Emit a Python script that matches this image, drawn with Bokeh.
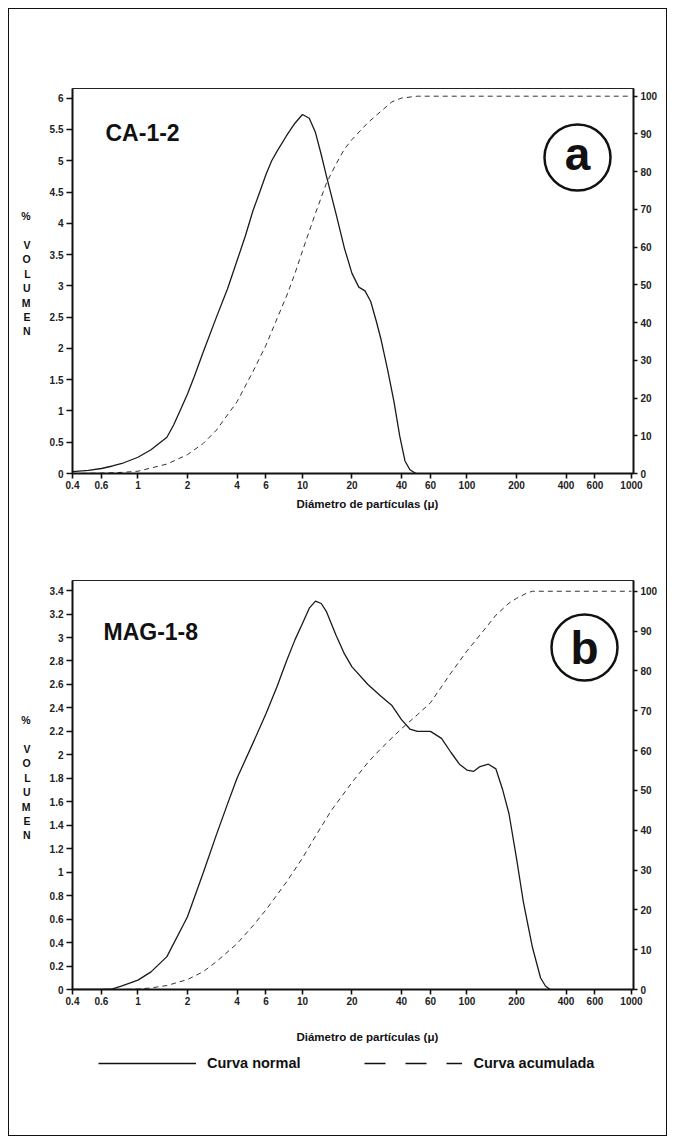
from bokeh.plotting import figure
from bokeh.models import (Range1d, LinearAxis, FixedTicker, NumeralTickFormatter,
                          Label, Legend, LegendItem)
from bokeh.layouts import column
from bokeh.embed import file_html
from bokeh.resources import INLINE

FONT = "Liberation Sans"

# ---------------- data ----------------
x_ticks = [0.4, 0.6, 1, 2, 4, 6, 10, 20, 40, 60, 100, 200, 400, 600, 1000]
pct_ticks = [0, 10, 20, 30, 40, 50, 60, 70, 80, 90, 100]
a_left_ticks = [0, 0.5, 1, 1.5, 2, 2.5, 3, 3.5, 4, 4.5, 5, 5.5, 6]
b_left_ticks = [0, 0.2, 0.4, 0.6, 0.8, 1, 1.2, 1.4, 1.6, 1.8, 2, 2.2, 2.4,
                2.6, 2.8, 3, 3.2, 3.4]

# Panel a : CA-1-2
a_norm_x = [0.4, 0.5, 0.6, 0.7, 0.8, 1.0, 1.2, 1.5, 1.65, 1.8, 2.0, 2.2, 2.5,
            3.0, 3.5, 4.0, 4.5, 5.0, 5.5, 6.0, 6.5, 7.0, 8.0, 9.0, 10.0, 11.0,
            12.0, 13.0, 14.0, 16.0, 18.0, 20.0, 22.0, 24.0, 26.0, 28.0, 30.0,
            33.0, 36.0, 39.0, 42.0, 45.0, 49.0]
a_norm_y = [0.03, 0.05, 0.08, 0.12, 0.16, 0.26, 0.38, 0.58, 0.78, 1.0, 1.27,
            1.55, 1.95, 2.5, 2.95, 3.4, 3.8, 4.2, 4.5, 4.78, 5.0, 5.15, 5.4,
            5.6, 5.74, 5.68, 5.45, 5.1, 4.75, 4.15, 3.6, 3.2, 2.98, 2.92,
            2.75, 2.45, 2.15, 1.65, 1.15, 0.6, 0.2, 0.06, 0.0]
a_cum_x = [0.4, 0.6, 0.8, 1.0, 1.5, 2.0, 2.5, 3.0, 4.0, 5.0, 6.0, 7.0, 8.0,
           9.0, 10.0, 12.0, 14.0, 16.0, 18.0, 20.0, 25.0, 30.0, 35.0, 40.0,
           50.0, 100.0, 1000.0]
a_cum_y = [0, 0.1, 0.3, 0.6, 2.5, 5, 8, 11.5, 19, 27, 34, 41, 47, 53, 59, 69,
           77, 82, 86, 88.5, 93, 96, 98.5, 99.5, 100, 100, 100]

# Panel b : MAG-1-8
b_norm_x = [0.4, 0.6, 0.7, 0.8, 1.0, 1.2, 1.5, 2.0, 2.5, 3.0, 3.5, 4.0, 5.0,
            6.0, 7.0, 8.0, 9.0, 10.0, 11.0, 12.0, 13.0, 14.0, 16.0, 18.0,
            20.0, 25.0, 30.0, 35.0, 40.0, 45.0, 50.0, 60.0, 70.0, 80.0, 90.0,
            100.0, 110.0, 120.0, 135.0, 150.0, 165.0, 180.0, 200.0, 220.0,
            250.0, 280.0, 300.0, 320.0]
b_norm_y = [0, 0, 0.005, 0.03, 0.08, 0.15, 0.28, 0.62, 1.0, 1.32, 1.58, 1.8,
            2.1, 2.35, 2.58, 2.8, 2.98, 3.12, 3.25, 3.31, 3.29, 3.22, 3.02,
            2.86, 2.75, 2.6, 2.5, 2.42, 2.3, 2.22, 2.2, 2.2, 2.14, 2.02, 1.92,
            1.87, 1.86, 1.9, 1.92, 1.88, 1.7, 1.5, 1.12, 0.75, 0.36, 0.1,
            0.03, 0.0]
b_cum_x = [0.4, 0.8, 1.0, 1.2, 1.5, 2.0, 2.5, 3.0, 4.0, 5.0, 6.0, 8.0, 10.0,
           12.0, 15.0, 20.0, 25.0, 30.0, 40.0, 50.0, 60.0, 80.0, 100.0, 120.0,
           150.0, 180.0, 200.0, 230.0, 250.0, 1000.0]
b_cum_y = [0, 0, 0.1, 0.4, 1, 2.5, 4.5, 7, 11.5, 16, 20, 27, 33, 38.5, 45, 52,
           57, 60.5, 65.5, 69, 72, 79.5, 85, 89, 94, 97, 98.2, 99.5, 100, 100]

x_title = "Diámetro de partículas (μ)"
y_title = "%\n\nV\nO\nL\nU\nM\nE\nN\n "
legend_labels = ["Curva normal", "Curva acumulada"]

PAGE_W = 675
LEFT = 72
RIGHT = 42
NBSP = "\u00a0"


def to_data(px, py, frame, xr, yr):
    L, T, R, B = frame
    x = xr[0] * (xr[1] / xr[0]) ** ((px - L) / (R - L))
    y = yr[0] + (B - py) / (B - T) * (yr[1] - yr[0])
    return x, y


def build(h, top, bottom, yr, yr2, left_ticks, nx, ny, cx_, cy_,
          name, name_pos, circ, letter, title_standoff):
    xr = (0.4, 0.4 * 10 ** ((PAGE_W - LEFT - RIGHT) / 164.5))
    p = figure(width=PAGE_W, height=h, x_axis_type="log",
               x_range=Range1d(*xr), y_range=Range1d(*yr),
               output_backend="svg", toolbar_location=None,
               min_border_left=LEFT, min_border_right=RIGHT,
               min_border_top=top, min_border_bottom=bottom,
               border_fill_color=None, background_fill_color="white")
    p.extra_y_ranges = {"pct": Range1d(*yr2)}
    p.grid.visible = False
    p.outline_line_color = "#222"
    p.outline_line_width = 1
    frame = (LEFT, top, PAGE_W - RIGHT, h - bottom)

    xa = p.xaxis[0]
    xa.ticker = FixedTicker(ticks=x_ticks)
    xa.formatter = NumeralTickFormatter(format="0.[0]")
    # title sits a little right of the frame centre in the original
    xa.axis_label = NBSP * 9 + x_title
    xa.axis_label_standoff = title_standoff
    xa.axis_label_text_font = FONT
    xa.axis_label_text_font_style = "bold"
    xa.axis_label_text_font_size = "11.5px"
    xa.axis_label_text_color = "#111"

    ya = p.yaxis[0]
    ya.ticker = FixedTicker(ticks=left_ticks)
    ya.formatter = NumeralTickFormatter(format="0.[0]")
    ya.axis_label = y_title
    ya.axis_label_orientation = "horizontal"
    ya.axis_label_standoff = 16
    ya.axis_label_text_font = FONT
    ya.axis_label_text_font_style = "bold"
    ya.axis_label_text_font_size = "10.5px"
    ya.axis_label_text_line_height = 1.2
    ya.axis_label_text_align = "center"
    ya.axis_label_text_color = "#111"

    ra = LinearAxis(y_range_name="pct", ticker=FixedTicker(ticks=pct_ticks))
    p.add_layout(ra, "right")

    for ax in (xa, ya, ra):
        ax.axis_line_width = 2
        ax.axis_line_color = "#111"
        ax.major_tick_in = 0
        ax.major_tick_out = 5
        ax.major_tick_line_width = 1.6
        ax.major_tick_line_color = "#111"
        ax.minor_tick_line_color = None
        ax.major_label_text_font = FONT
        ax.major_label_text_font_style = "bold"
        ax.major_label_text_font_size = "10px"
        ax.major_label_text_color = "#222"
        ax.major_label_standoff = 2
    ya.major_tick_out = 6
    ya.major_label_standoff = 3
    ra.major_label_standoff = 3
    ra.major_tick_out = 4

    p.line(nx, ny, line_color="#1a1a1a", line_width=1.3)
    p.line(cx_, cy_, y_range_name="pct", line_color="#333",
           line_width=1.0, line_dash="5 4")

    # sample name
    tx, ty = to_data(name_pos[0], name_pos[1], frame, xr, yr)
    p.add_layout(Label(x=tx, y=ty, text=name, text_font=FONT,
                       text_font_style="bold", text_font_size="23px",
                       text_color="#111", text_baseline="middle",
                       text_align="left"))
    # circled letter
    ccx, ccy = to_data(circ[0], circ[1], frame, xr, yr)
    p.scatter([ccx], [ccy], marker="circle", size=66, fill_color=None,
              line_color="#111", line_width=2.5)
    lx, ly = to_data(circ[0], circ[1] + circ[2], frame, xr, yr)
    p.add_layout(Label(x=lx, y=ly, text=letter, text_font=FONT,
                       text_font_style="bold", text_font_size="46px",
                       text_color="#111", text_baseline="middle",
                       text_align="center"))
    return p


# Panel a: page y 0..530
pa = build(530, 88, 57, (0, 6.155), (0, 102.04), a_left_ticks,
           a_norm_x, a_norm_y, a_cum_x, a_cum_y,
           "CA-1-2", (105, 132), (577, 157, -4), "a", 6)

# Panel b: page y 530..1050
y0 = 530
pb = build(520, 50, 61, (0, 3.486), (0, 102.7), b_left_ticks,
           b_norm_x, b_norm_y, b_cum_x, b_cum_y,
           "MAG-1-8", (103, 631 - y0), (584, 647 - y0, 0), "b", 23)

# Legend strip: page y 1050..1144 (its frame is aligned with the panels)
pl = figure(width=PAGE_W, height=94, x_range=(0, 1), y_range=(0, 1),
            output_backend="svg", toolbar_location=None,
            min_border_left=LEFT, min_border_right=RIGHT,
            min_border_top=0, min_border_bottom=0,
            x_axis_location=None, y_axis_location=None,
            border_fill_color=None, background_fill_color=None)
pl.grid.visible = False
pl.outline_line_color = None
nan = float("nan")
solid = pl.line(x=[nan], y=[nan], line_color="#111", line_width=1.6)
dashed = pl.line(x=[nan], y=[nan], line_color="#111", line_width=1.6,
                 line_dash="21 20")
legend = Legend(items=[LegendItem(label=legend_labels[0], renderers=[solid]),
                       LegendItem(label=legend_labels[1], renderers=[dashed])],
                orientation="horizontal", location=(98 - LEFT, 73),
                glyph_width=98, glyph_height=16, label_height=16,
                label_standoff=11, spacing=64, padding=0, margin=0,
                border_line_color=None, background_fill_alpha=0,
                label_text_font=FONT, label_text_font_style="bold",
                label_text_font_size="14.5px", label_text_color="#111")
pl.add_layout(legend, "center")

layout = column(pa, pb, pl, spacing=0,
                styles={"outline": "1.5px solid #111",
                        "outline-offset": "-9px"})

open("out.html", "w").write(file_html(layout, INLINE))
